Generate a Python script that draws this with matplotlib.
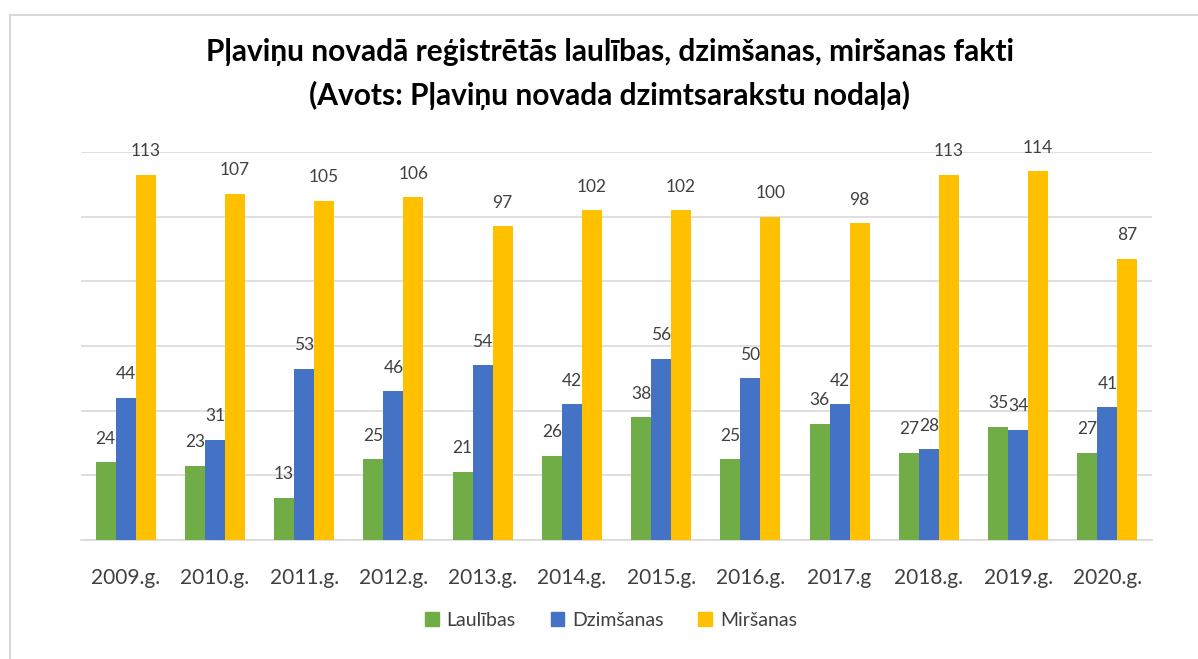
import numpy as np
import matplotlib.pyplot as plt
from matplotlib.lines import Line2D
from matplotlib.patches import Patch

plt.rcParams['font.family'] = ['Lato', 'DejaVu Sans']

years = ['2009.g.', '2010.g.', '2011.g.', '2012.g.', '2013.g.', '2014.g.',
         '2015.g.', '2016.g.', '2017.g', '2018.g.', '2019.g.', '2020.g.']
laulibas = [24, 23, 13, 25, 21, 26, 38, 25, 36, 27, 35, 27]
dzimsanas = [44, 31, 53, 46, 54, 42, 56, 50, 42, 28, 34, 41]
mirsanas = [113, 107, 105, 106, 97, 102, 102, 100, 98, 113, 114, 87]
series_names = ['Laulības', 'Dzimšanas', 'Miršanas']
colors = ['#70AD47', '#4472C4', '#FFC000']

fig = plt.figure(figsize=(11.98, 6.59), dpi=100)
ax = fig.add_axes([81 / 1198, 1 - 540 / 659, (1152 - 81) / 1198, (540 - 152) / 659])

x = np.arange(len(years))
w = 0.224
for k, (vals, col) in enumerate(zip([laulibas, dzimsanas, mirsanas], colors)):
    pos = x + (k - 1) * w
    ax.bar(pos, vals, width=w, color=col, zorder=3)
    for px, v in zip(pos, vals):
        ax.annotate(str(v), (px, v), xytext=(0, 17), textcoords='offset points',
                    ha='center', va='center', fontsize=12.5, color='#404040')

ax.set_xlim(-0.5, len(years) - 0.5)
ax.set_ylim(0, 120)
ax.set_yticks(np.arange(0, 121, 20))
ax.set_yticklabels([])
ax.tick_params(axis='y', length=0)
ax.grid(axis='y', color='#d9d9d9', linewidth=1.2, zorder=0)
ax.set_xticks(x)
ax.set_xticklabels(years, fontsize=15, color='#404040')
ax.tick_params(axis='x', length=0, pad=20)
for s in ['top', 'right', 'left']:
    ax.spines[s].set_visible(False)
ax.spines['bottom'].set_color('#d9d9d9')
ax.spines['bottom'].set_linewidth(1.2)

fig.text(0.509, 1 - 52 / 659, 'Pļaviņu novadā reģistrētās laulības, dzimšanas, miršanas fakti',
         ha='center', va='center', fontsize=21.5, fontweight='bold', color='#000000')
fig.text(0.509, 1 - 95 / 659, '(Avots: Pļaviņu novada dzimtsarakstu nodaļa)',
         ha='center', va='center', fontsize=21.5, fontweight='bold', color='#000000')

handles = [Patch(color=c) for c in colors]
fig.legend(handles, series_names, loc='center', bbox_to_anchor=(0.51, 1 - 620 / 659),
           ncol=3, frameon=False, fontsize=14, handlelength=0.7, handleheight=0.7,
           handletextpad=0.4, columnspacing=1.8, labelcolor='#404040')

# outer chart frame
fig.add_artist(Line2D([10 / 1198, 10 / 1198], [0, 1 - 15 / 659], transform=fig.transFigure,
                      color='#d9d9d9', linewidth=1.5))
fig.add_artist(Line2D([10 / 1198, 1], [1 - 15 / 659, 1 - 15 / 659], transform=fig.transFigure,
                      color='#d9d9d9', linewidth=1.5))

fig.savefig('out.png', dpi=100)
